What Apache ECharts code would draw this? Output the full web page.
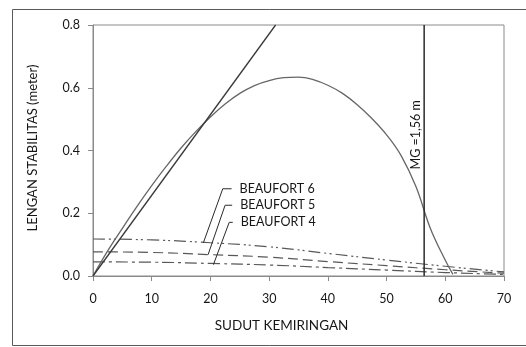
<!DOCTYPE html>
<html>
<head>
<meta charset="utf-8">
<script src="https://cdn.jsdelivr.net/npm/echarts@6/dist/echarts.min.js"></script>
<style>
  html, body { margin: 0; padding: 0; background: #fff; }
  #chart { width: 526px; height: 347px; }
</style>
</head>
<body>
<div id="chart"></div>
<script>
// Heel angle (degrees) and righting lever GZ (metres)
const gzAngle = [0, 2.5, 5, 7.5, 10, 12.5, 15, 17.5, 20, 22.5, 25, 27.5, 30, 32.5, 35, 37.5, 40, 42.5, 45, 47.5, 50, 52.5, 55, 57.5, 60, 61.3];
const gzLever = [0, 0.080, 0.152, 0.222, 0.288, 0.350, 0.408, 0.460, 0.507, 0.548, 0.582, 0.607, 0.623, 0.632, 0.634, 0.626, 0.608, 0.582, 0.546, 0.502, 0.450, 0.383, 0.285, 0.150, 0.050, 0.005];

// Initial slope of GZ (tangent through origin)
const tangentAngle = [0, 31.1];
const tangentLever = [0, 0.8];

// Wind heeling levers
const windAngle = [0, 10, 20, 30, 40, 50, 60, 70];
const beaufort6 = [0.118, 0.115, 0.106, 0.093, 0.072, 0.051, 0.031, 0.013];
const beaufort5 = [0.077, 0.075, 0.068, 0.060, 0.046, 0.033, 0.020, 0.009];
const beaufort4 = [0.045, 0.044, 0.040, 0.035, 0.027, 0.019, 0.011, 0.005];

// Vertical reference line labelled with MG
const mgAngle = 56.4;
const mgLabel = 'MG =1,56 m';

// Leader lines for the wind lever labels: [label end, elbow, tip on curve]
const leaderNames = ['BEAUFORT 6', 'BEAUFORT 5', 'BEAUFORT 4'];
const leaderAngle = [[23.6, 22.1, 18.8], [23.7, 22.5, 19.6], [23.8, 23.2, 20.5]];
const leaderLever = [[0.278, 0.278, 0.106], [0.2255, 0.2255, 0.068], [0.171, 0.171, 0.036]];

// Axis ticks
const xTicks = { min: 0, max: 70, interval: 10 };
const yTicks = { min: 0, max: 0.8, interval: 0.2 };

const FONT = 'Lato, "Open Sans", sans-serif';
const TXT = '#161616';
const AXIS = '#8a8a8a';

const pairs = (xs, ys) => xs.map((x, i) => [x, ys[i]]);

const chart = echarts.init(document.getElementById('chart'), null, { renderer: 'canvas' });

const leaderSeries = leaderNames.map((name, k) => ({
  type: 'line',
  name: name,
  silent: true,
  symbol: 'none',
  lineStyle: { color: '#2a2a2a', width: 1 },
  data: pairs(leaderAngle[k], leaderLever[k]),
  z: 4
}));

chart.setOption({
  animation: false,
  backgroundColor: '#fff',
  textStyle: { fontFamily: FONT },
  grid: {
    left: 93, top: 25, right: 22, bottom: 71,
    show: true, borderColor: AXIS, borderWidth: 1, backgroundColor: '#fff'
  },
  xAxis: {
    type: 'value',
    min: xTicks.min, max: xTicks.max, interval: xTicks.interval,
    name: 'SUDUT KEMIRINGAN',
    nameLocation: 'middle', nameGap: 43,
    nameTextStyle: { color: TXT, fontSize: 13.5, fontFamily: FONT, padding: [0, 34, 0, 0] },
    axisLine: { show: true, lineStyle: { color: AXIS, width: 1 } },
    axisTick: { show: true, inside: false, length: 5, lineStyle: { color: AXIS } },
    axisLabel: { color: TXT, fontSize: 12.5, margin: 16, fontFamily: FONT },
    splitLine: { show: false }
  },
  yAxis: {
    type: 'value',
    min: yTicks.min, max: yTicks.max, interval: yTicks.interval,
    name: 'LENGAN STABILITAS (meter)',
    nameLocation: 'middle', nameGap: 54, nameRotate: 90,
    nameTextStyle: { color: TXT, fontSize: 13, fontFamily: FONT, padding: [0, 0, 0, 5] },
    axisLine: { show: true, lineStyle: { color: AXIS, width: 1 } },
    axisTick: { show: true, inside: false, length: 5, lineStyle: { color: AXIS } },
    axisLabel: {
      color: TXT, fontSize: 12.5, margin: 13, fontFamily: FONT,
      formatter: v => v.toFixed(1)
    },
    splitLine: { show: false }
  },
  series: [
    {
      type: 'line', name: 'GZ', symbol: 'none', smooth: 0.4,
      lineStyle: { color: '#666', width: 1.3 },
      data: pairs(gzAngle, gzLever), z: 3
    },
    {
      type: 'line', name: 'GM', symbol: 'none',
      lineStyle: { color: '#3a3a3a', width: 1.3 },
      data: pairs(tangentAngle, tangentLever), z: 3
    },
    {
      type: 'line', name: 'Beaufort 6', symbol: 'none', smooth: true,
      lineStyle: { color: '#585858', width: 1.2, type: [12, 4, 2, 3, 2, 4] },
      data: pairs(windAngle, beaufort6), z: 2
    },
    {
      type: 'line', name: 'Beaufort 5', symbol: 'none', smooth: true,
      lineStyle: { color: '#585858', width: 1.2, type: [10, 5] },
      data: pairs(windAngle, beaufort5), z: 2
    },
    {
      type: 'line', name: 'Beaufort 4', symbol: 'none', smooth: true,
      lineStyle: { color: '#585858', width: 1.2, type: [12, 4, 3, 4] },
      data: pairs(windAngle, beaufort4), z: 2
    },
    {
      type: 'line', name: 'MG', symbol: 'none',
      lineStyle: { color: '#2a2a2a', width: 1.5 },
      data: [[mgAngle, yTicks.min], [mgAngle, yTicks.max]], z: 4
    },
    ...leaderSeries
  ]
});

// Text placed from data coordinates: rotated MG caption and the wind lever names
const mgPos = chart.convertToPixel({ gridIndex: 0 }, [mgAngle, 0.45]);
const labelTexts = leaderNames.map((name, k) => {
  const p = chart.convertToPixel({ gridIndex: 0 }, [leaderAngle[k][0], leaderLever[k][0]]);
  return {
    type: 'text', silent: true, x: p[0] + 8, y: p[1],
    style: {
      text: name, fill: TXT, fontSize: 12.5, fontFamily: FONT,
      align: 'left', verticalAlign: 'middle'
    }
  };
});
chart.setOption({
  graphic: [
    {
      type: 'rect', silent: true, z: -1,
      shape: { x: 12.5, y: 9.5, width: 530, height: 336 },
      style: { fill: null, stroke: '#5a5a5a', lineWidth: 1 }
    },
    {
      type: 'text', silent: true,
      x: mgPos[0] - 8, y: mgPos[1],
      rotation: Math.PI / 2,
      style: {
        text: mgLabel, fill: TXT, fontSize: 12.5, fontFamily: FONT,
        align: 'center', verticalAlign: 'middle'
      }
    },
    ...labelTexts
  ]
});
</script>
</body>
</html>
